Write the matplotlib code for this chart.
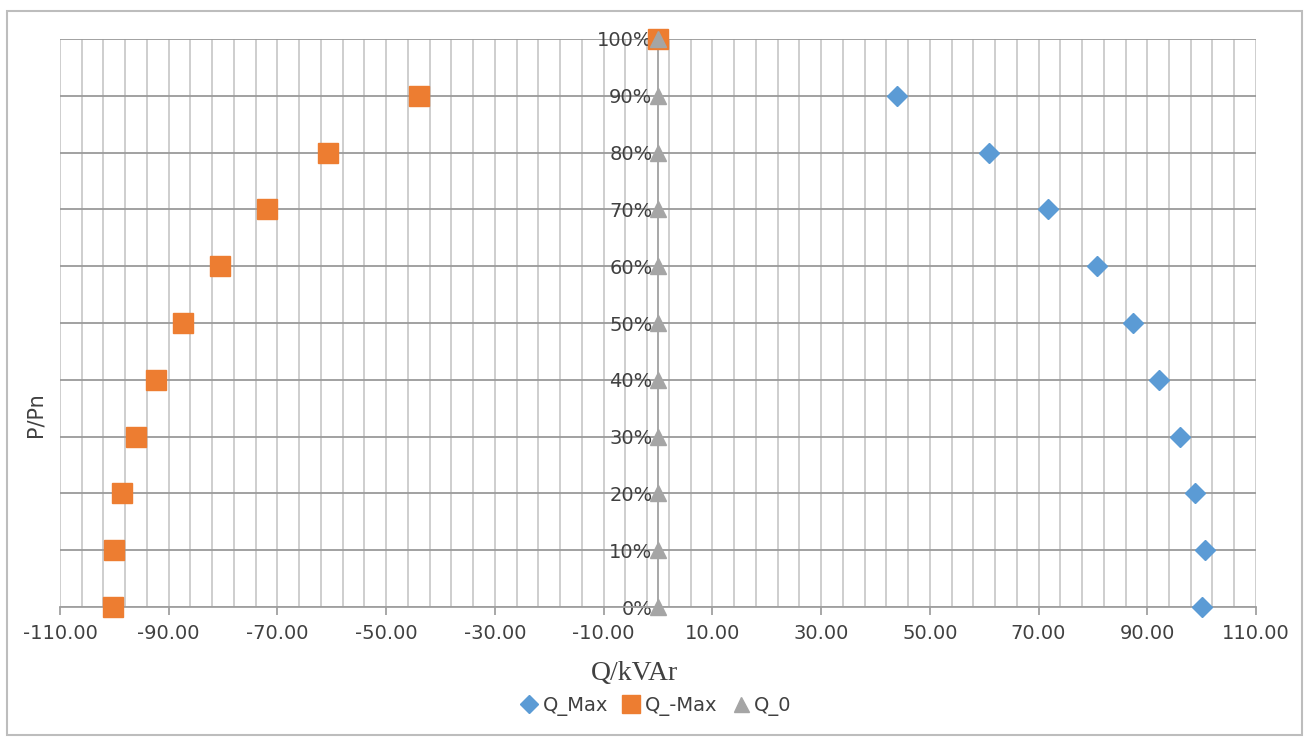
import numpy as np
import matplotlib
matplotlib.use('Agg')
import matplotlib.pyplot as plt
from matplotlib.ticker import MultipleLocator, FuncFormatter
from matplotlib.patches import Rectangle

# data
p_levels = [0, 10, 20, 30, 40, 50, 60, 70, 80, 90, 100]
q_max = [100.0, 100.6, 98.8, 96.0, 92.2, 87.3, 80.7, 71.7, 60.8, 44.0, 0.0]
q_neg_max = [-100.3, -100.0, -98.6, -96.0, -92.3, -87.4, -80.6, -71.9, -60.7, -44.0, 0.0]
q_zero = [0.0] * 11

blue = '#5B9BD5'
orange = '#ED7D31'
grey = '#A5A5A5'

fig = plt.figure(figsize=(13.09, 7.40), dpi=100)
fig.patches.append(Rectangle((0.005, 0.007), 0.99, 0.978, transform=fig.transFigure,
                             fill=False, edgecolor='#bdbdbd', linewidth=1.5))
ax = fig.add_axes([0.0458, 0.1797, 0.9137, 0.7676])

#------------------------[grid]------------------------#
ax.set_xlim(-110, 110)
ax.set_ylim(0, 100)
ax.xaxis.set_major_locator(MultipleLocator(20, offset=10))
ax.xaxis.set_minor_locator(MultipleLocator(4, offset=2))
ax.yaxis.set_major_locator(MultipleLocator(10))
ax.grid(which='both', axis='x', color='#c6c6c6', linewidth=1.2)
ax.grid(which='major', axis='y', color='#9a9a9a', linewidth=1.3)
ax.set_axisbelow(True)

ax.spines['top'].set_visible(False)
ax.spines['right'].set_visible(False)
ax.spines['left'].set_position(('data', 0))
ax.spines['left'].set_color('#a0a0a0')
ax.spines['left'].set_linewidth(1.3)
ax.spines['bottom'].set_color('#a0a0a0')
ax.spines['bottom'].set_linewidth(1.3)

ax.xaxis.set_major_formatter(FuncFormatter(lambda v, pos: '%.2f' % v))
ax.yaxis.set_major_formatter(FuncFormatter(lambda v, pos: '%d%%' % v))
ax.tick_params(axis='x', which='major', length=6, color='#a0a0a0', width=1.3,
               labelsize=14, labelcolor='#404040', pad=6)
ax.tick_params(axis='x', which='minor', length=0)
ax.tick_params(axis='y', length=0, labelsize=14, labelcolor='#404040', pad=4)

#------------------------[series]------------------------#
ax.plot(q_max, p_levels, linestyle='none', marker='D', markersize=10.5,
        color=blue, label='Q_Max', clip_on=False, zorder=3)
ax.plot(q_neg_max, p_levels, linestyle='none', marker='s', markersize=14,
        color=orange, label='Q_-Max', clip_on=False, zorder=3)
ax.plot(q_zero, p_levels, linestyle='none', marker='^', markersize=12,
        color=grey, label='Q_0', clip_on=False, zorder=4)

ax.set_xlabel('Q/kVAr', family='Liberation Serif', fontsize=20, color='#404040')
ax.xaxis.set_label_coords(0.48, -0.095)
fig.text(0.027, 0.44, 'P/Pn', rotation=90, fontsize=15, color='#404040',
         ha='center', va='center')

leg = fig.legend(loc='center', bbox_to_anchor=(0.5, 0.046), ncol=3, frameon=False,
                 fontsize=14, handletextpad=0.1, columnspacing=0.6,
                 markerscale=0.9, handlelength=1.2)
for t in leg.get_texts():
    t.set_color('#404040')

fig.savefig('out.png', dpi=100)
